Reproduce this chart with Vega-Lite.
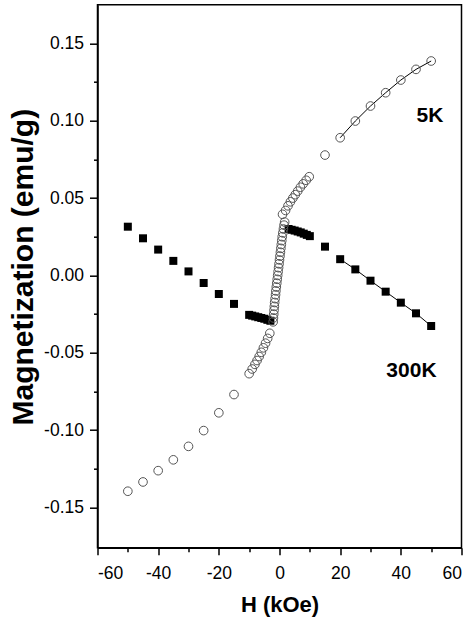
{
  "$schema": "https://vega.github.io/schema/vega-lite/v6.json",
  "autosize": {"type": "none"},
  "padding": {"left": 97.5, "top": 4.7, "right": 12.5, "bottom": 73.3},
  "width": 364,
  "height": 543,
  "config": {
    "font": "Liberation Sans",
    "view": {"stroke": "black", "strokeWidth": 1.5},
    "axis": {
      "grid": false,
      "domainColor": "black",
      "domainWidth": 1.5,
      "tickColor": "black",
      "tickWidth": 1.5,
      "labelColor": "black",
      "labelFont": "Liberation Sans",
      "labelFontSize": 17.5,
      "labelOverlap": false,
      "titleColor": "black",
      "titleFont": "Liberation Sans",
      "titleFontWeight": "bold"
    }
  },
  "datasets": {
    "k5": [
      {"H": -50, "M": -0.1395}, {"H": -45, "M": -0.1335}, {"H": -40, "M": -0.1262},
      {"H": -35, "M": -0.1192}, {"H": -30, "M": -0.1105}, {"H": -25, "M": -0.1003},
      {"H": -20, "M": -0.0888}, {"H": -15, "M": -0.077}, {"H": -10, "M": -0.0635},
      {"H": -9, "M": -0.0605}, {"H": -8.1, "M": -0.0575}, {"H": -7.4, "M": -0.055},
      {"H": -6.7, "M": -0.0524}, {"H": -6.0, "M": -0.0497}, {"H": -5.3, "M": -0.0468},
      {"H": -4.6, "M": -0.0438}, {"H": -3.9, "M": -0.0407}, {"H": -3.2, "M": -0.0374},
      {"H": -2.1, "M": -0.03}, {"H": -2.0, "M": -0.0275}, {"H": -1.9, "M": -0.025},
      {"H": -1.8, "M": -0.0225}, {"H": -1.7, "M": -0.02}, {"H": -1.6, "M": -0.0175},
      {"H": -1.45, "M": -0.015}, {"H": -1.3, "M": -0.0125}, {"H": -1.2, "M": -0.01},
      {"H": -1.05, "M": -0.0075}, {"H": -0.9, "M": -0.005}, {"H": -0.75, "M": -0.0025},
      {"H": -0.6, "M": 0.0}, {"H": -0.45, "M": 0.0025}, {"H": -0.3, "M": 0.005},
      {"H": -0.15, "M": 0.0075}, {"H": 0.0, "M": 0.01}, {"H": 0.15, "M": 0.0125},
      {"H": 0.3, "M": 0.015}, {"H": 0.45, "M": 0.0175}, {"H": 0.6, "M": 0.02},
      {"H": 0.75, "M": 0.0225}, {"H": 0.9, "M": 0.025}, {"H": 1.1, "M": 0.0275},
      {"H": 1.3, "M": 0.03}, {"H": 1.5, "M": 0.0325}, {"H": 1.7, "M": 0.0345},
      {"H": 1.0, "M": 0.0395}, {"H": 2.0, "M": 0.042}, {"H": 2.8, "M": 0.045},
      {"H": 3.6, "M": 0.0476}, {"H": 4.4, "M": 0.05}, {"H": 5.2, "M": 0.0522},
      {"H": 6.0, "M": 0.0545}, {"H": 6.9, "M": 0.057}, {"H": 7.8, "M": 0.0592},
      {"H": 8.8, "M": 0.0615}, {"H": 9.8, "M": 0.0638}, {"H": 15, "M": 0.0778},
      {"H": 20, "M": 0.089}, {"H": 25, "M": 0.0998}, {"H": 30, "M": 0.1095},
      {"H": 35, "M": 0.1181}, {"H": 40, "M": 0.1263}, {"H": 45, "M": 0.1332},
      {"H": 50, "M": 0.1386}
    ],
    "k300": [
      {"H": -50, "M": 0.0315}, {"H": -45, "M": 0.024}, {"H": -40, "M": 0.0167},
      {"H": -35, "M": 0.0094}, {"H": -30, "M": 0.0026}, {"H": -25, "M": -0.0049},
      {"H": -20, "M": -0.012}, {"H": -15, "M": -0.0184}, {"H": -10, "M": -0.0255},
      {"H": -9, "M": -0.026}, {"H": -8, "M": -0.0265}, {"H": -7, "M": -0.027},
      {"H": -6, "M": -0.0275}, {"H": -5, "M": -0.028}, {"H": -4, "M": -0.0287},
      {"H": -3, "M": -0.0293}, {"H": 3, "M": 0.03}, {"H": 4, "M": 0.0295},
      {"H": 5, "M": 0.029}, {"H": 6, "M": 0.0284}, {"H": 7, "M": 0.0278},
      {"H": 8, "M": 0.027}, {"H": 9, "M": 0.0262}, {"H": 10, "M": 0.0254},
      {"H": 15, "M": 0.0186}, {"H": 20, "M": 0.0105}, {"H": 25, "M": 0.0039},
      {"H": 30, "M": -0.0034}, {"H": 35, "M": -0.0105}, {"H": 40, "M": -0.0176},
      {"H": 45, "M": -0.0245}, {"H": 50, "M": -0.0327}
    ],
    "labels": [
      {"label": "5K", "H": 49.6, "M": 0.0994},
      {"label": "300K", "H": 43.5, "M": -0.0655}
    ]
  },
  "encoding": {
    "x": {
      "field": "H",
      "type": "quantitative",
      "scale": {"domain": [-60, 60], "nice": false, "zero": false},
      "axis": {
        "title": "H (kOe)",
        "titleFontSize": 22,
        "titlePadding": 12,
        "values": [-60, -50, -40, -30, -20, -10, 0, 10, 20, 30, 40, 50, 60],
        "tickSize": {"condition": {"test": "datum.value % 20 === 0", "value": 7}, "value": 4},
        "labelExpr": "datum.value % 20 === 0 ? '' + datum.value : ''",
        "labelPadding": 10
      }
    },
    "y": {
      "field": "M",
      "type": "quantitative",
      "scale": {"domain": [-0.176, 0.175], "nice": false, "zero": false},
      "axis": {
        "title": "Magnetization (emu/g)",
        "titleFontSize": 30,
        "titlePadding": 5,
        "titleY": 262,
        "values": [-0.15, -0.125, -0.1, -0.075, -0.05, -0.025, 0, 0.025, 0.05, 0.075, 0.1, 0.125, 0.15],
        "tickSize": {"condition": {"test": "abs(datum.value * 20 - round(datum.value * 20)) < 0.001", "value": 8}, "value": 4},
        "labelExpr": "abs(datum.value * 20 - round(datum.value * 20)) < 0.001 ? replace(format(datum.value, '.2f'), '\u2212', '-') : ''",
        "labelPadding": 6
      }
    }
  },
  "layer": [
    {
      "data": {"name": "k300"},
      "transform": [{"filter": "datum.H >= 20"}],
      "mark": {"type": "line", "color": "black", "strokeWidth": 1},
      "encoding": {}
    },
    {
      "data": {"name": "k5"},
      "transform": [{"filter": "datum.H >= 20"}],
      "mark": {"type": "line", "color": "black", "strokeWidth": 1},
      "encoding": {}
    },
    {
      "data": {"name": "k300"},
      "mark": {"type": "point", "shape": "square", "filled": true, "color": "black", "size": 64, "opacity": 1}
    },
    {
      "data": {"name": "k5"},
      "mark": {"type": "point", "shape": "circle", "filled": false, "stroke": "#555555", "strokeWidth": 1, "size": 75, "opacity": 1}
    },
    {
      "data": {"name": "labels"},
      "mark": {"type": "text", "font": "Liberation Sans", "fontWeight": "bold", "fontSize": 21, "align": "center", "baseline": "alphabetic", "color": "black"},
      "encoding": {"text": {"field": "label"}}
    }
  ]
}
